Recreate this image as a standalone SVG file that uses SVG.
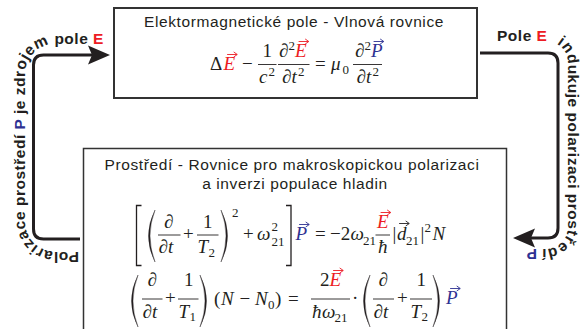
<svg xmlns="http://www.w3.org/2000/svg" xmlns:xlink="http://www.w3.org/1999/xlink" width="584" height="329" viewBox="0 0 584 329">
<style>
.box{fill:#fff;stroke:#333;}
.t{font-family:"Liberation Sans",Arial,sans-serif;font-size:15.5px;letter-spacing:0.6px;fill:#231f20;text-anchor:middle}
.lbl{font-family:"Liberation Sans",Arial,sans-serif;font-weight:bold;font-size:15.5px;letter-spacing:0.5px;fill:#231f20}
.m{font-family:"Liberation Serif","Times New Roman","DejaVu Serif",serif;font-size:19px;fill:#231f20}
.i{font-style:italic}
.s{font-size:13px}
.r{fill:#ed1c24}
.b{fill:#2e3192}
.bar{stroke:#231f20;stroke-width:0.9}
.conn{fill:none;stroke:#231f20;stroke-width:3;stroke-linejoin:round}
.par{fill:#231f20;stroke:#231f20;stroke-width:0.4}
.brk{fill:none;stroke:#231f20;stroke-width:1.3}
</style>
<defs>
<marker id="ah" markerWidth="24" markerHeight="22" refX="12" refY="10" orient="auto" markerUnits="userSpaceOnUse">
<path d="M0,0.5 L22,10 L0,19.5 L4,10 Z" fill="#231f20"/>
</marker>
<path id="va" d="M-5,0 H4 M1.5,-2.3 L4.8,0 L1.5,2.3" fill="none" stroke-width="0.9" stroke-linecap="round" stroke-linejoin="round"/>
<path id="lp" d="M0,0 Q-13,26 0,52 Q-10,26 0,0 Z"/>
<path id="rp" d="M0,0 Q13,26 0,52 Q10,26 0,0 Z"/>
<path id="tpL" d="M 79,251.5 L 55,251.5 A 30,30 0 0 1 25,221.5 L 25,74 A 30,30 0 0 1 55,44 L 120,44"/>
<path id="tpR" d="M 497,41 L 546,41 A 22,22 0 0 1 568,63 L 568,227 A 22,22 0 0 1 546,249 L 470,249"/>
</defs>

<g id="connectors">
<path class="conn" d="M 80,239 H 43.5 Q 33.5,239 33.5,229 V 65 Q 33.5,55 43.5,55 H 100" marker-end="url(#ah)"/>
<path class="conn" d="M 480,53 H 548 Q 558,53 558,63 V 228 Q 558,238 548,238 H 523" marker-end="url(#ah)"/>
<text class="lbl"><textPath href="#tpL" xlink:href="#tpL">Polarizace prostředí <tspan class="b">P</tspan> je zdrojem pole <tspan class="r">E</tspan></textPath></text>
<text class="lbl"><textPath href="#tpR" xlink:href="#tpR">Pole <tspan class="r">E</tspan> <tspan dx="5">indukuje polarizaci prostředí </tspan><tspan class="b">P</tspan></textPath></text>
</g>

<g id="box-em">
<rect class="box" x="114" y="8" width="363" height="90" stroke-width="2"/>
<text class="t" x="294" y="27">Elektormagnetické pole - Vlnová rovnice</text>
<g class="m">
<text x="210" y="70">Δ</text>
<text class="i r" x="223.5" y="70">E</text>
<use href="#va" xlink:href="#va" x="232.5" y="54.5" stroke="#ed1c24"/>
<text x="242" y="70">−</text>
<line class="bar" x1="258" y1="64.5" x2="276.5" y2="64.5"/>
<text x="262.5" y="57">1</text>
<text class="i" x="259" y="82.5">c</text>
<text class="s" x="268.5" y="75.5">2</text>
<line class="bar" x1="278" y1="64.5" x2="309.5" y2="64.5"/>
<text x="279" y="57">∂</text>
<text class="s" x="288.5" y="50">2</text>
<text class="i r" x="295" y="57">E</text>
<use href="#va" xlink:href="#va" x="304" y="41.5" stroke="#ed1c24"/>
<text x="282" y="82.5">∂</text>
<text class="i" x="291.5" y="82.5">t</text>
<text class="s" x="298" y="75.5">2</text>
<text x="315" y="70">=</text>
<text class="i" x="331" y="70">μ</text>
<text class="s" x="342.5" y="74">0</text>
<line class="bar" x1="353" y1="64.5" x2="382" y2="64.5"/>
<text x="355" y="57">∂</text>
<text class="s" x="364.5" y="50">2</text>
<text class="i b" x="371" y="57">P</text>
<use href="#va" xlink:href="#va" x="379" y="41.5" stroke="#2e3192"/>
<text x="356.5" y="82.5">∂</text>
<text class="i" x="366" y="82.5">t</text>
<text class="s" x="372.5" y="75.5">2</text>
</g>
</g>

<g id="box-medium">
<rect class="box" x="83.5" y="148.5" width="423" height="200" stroke-width="1.5"/>
<text class="t" x="292" y="170">Prostředí - Rovnice pro makroskopickou polarizaci</text>
<text class="t" x="295" y="188.5">a inverzi populace hladin</text>
<g class="m">
<path class="brk" d="M141.5,205.5 H136.5 V265.5 H141.5"/>
<use class="par" href="#lp" xlink:href="#lp" x="155" y="210"/>
<text x="164" y="228">∂</text>
<line class="bar" x1="158" y1="235" x2="180.5" y2="235"/>
<text x="158.5" y="253">∂</text>
<text class="i" x="168" y="253">t</text>
<text x="183" y="240">+</text>
<line class="bar" x1="197" y1="235" x2="218.5" y2="235"/>
<text x="203" y="228">1</text>
<text class="i" x="197.5" y="253">T</text>
<text class="s" x="208.5" y="256.5">2</text>
<use class="par" href="#rp" xlink:href="#rp" x="221" y="210"/>
<text class="s" x="232" y="217">2</text>
<text x="243" y="240">+</text>
<text class="i" x="257" y="240">ω</text>
<text class="s" x="271.5" y="230.5">2</text>
<text class="s" x="271.5" y="246">21</text>
<path class="brk" d="M286,205.5 H291 V265.5 H286"/>
<text class="i b" x="295.5" y="240">P</text>
<use href="#va" xlink:href="#va" x="304.5" y="224.5" stroke="#2e3192"/>
<text x="315" y="240">=</text>
<text x="330" y="240">−2</text>
<text class="i" x="350.5" y="240">ω</text>
<text class="s" x="363" y="245">21</text>
<line class="bar" x1="375.5" y1="235" x2="390" y2="235"/>
<text class="i r" x="377" y="228">E</text>
<use href="#va" xlink:href="#va" x="386" y="212.5" stroke="#ed1c24"/>
<text class="i" x="378" y="253">ħ</text>
<text x="392.5" y="240">|</text>
<text class="i" x="397" y="240">d</text>
<use href="#va" xlink:href="#va" x="404.5" y="223.5" stroke="#231f20"/>
<text class="s" x="406" y="245">21</text>
<text x="420.5" y="240">|</text>
<text class="s" x="424.5" y="232">2</text>
<text class="i" x="432.5" y="240">N</text>

<use class="par" href="#lp" xlink:href="#lp" x="138" y="275"/>
<text x="147.5" y="286">∂</text>
<line class="bar" x1="142" y1="299" x2="162.5" y2="299"/>
<text x="142.5" y="318">∂</text>
<text class="i" x="152" y="318">t</text>
<text x="165" y="304">+</text>
<line class="bar" x1="178" y1="299" x2="198.5" y2="299"/>
<text x="184" y="286">1</text>
<text class="i" x="178.5" y="318">T</text>
<text class="s" x="189.5" y="321">1</text>
<use class="par" href="#rp" xlink:href="#rp" x="200" y="275"/>
<text x="214" y="305">(</text>
<text class="i" x="221" y="305">N</text>
<text x="239.5" y="305">−</text>
<text class="i" x="255" y="305">N</text>
<text class="s" x="268" y="309">0</text>
<text x="275" y="305">)</text>
<text x="288" y="305">=</text>
<line class="bar" x1="311" y1="299" x2="350" y2="299"/>
<text x="320" y="286">2</text>
<text class="i r" x="329.5" y="286">E</text>
<use href="#va" xlink:href="#va" x="338.5" y="270.5" stroke="#ed1c24"/>
<text class="i" x="312" y="318">ħ</text>
<text class="i" x="322" y="318">ω</text>
<text class="s" x="334.5" y="322">21</text>
<text x="352" y="304">·</text>
<use class="par" href="#lp" xlink:href="#lp" x="370" y="275"/>
<text x="378.5" y="286">∂</text>
<line class="bar" x1="373" y1="299" x2="394" y2="299"/>
<text x="373.5" y="318">∂</text>
<text class="i" x="383" y="318">t</text>
<text x="397" y="304">+</text>
<line class="bar" x1="410" y1="299" x2="432" y2="299"/>
<text x="416.5" y="286">1</text>
<text class="i" x="410.5" y="318">T</text>
<text class="s" x="421.5" y="321">2</text>
<use class="par" href="#rp" xlink:href="#rp" x="433" y="275"/>
<text class="i b" x="446" y="304">P</text>
<use href="#va" xlink:href="#va" x="455.5" y="288.5" stroke="#2e3192"/>
</g>
</g>
</svg>
